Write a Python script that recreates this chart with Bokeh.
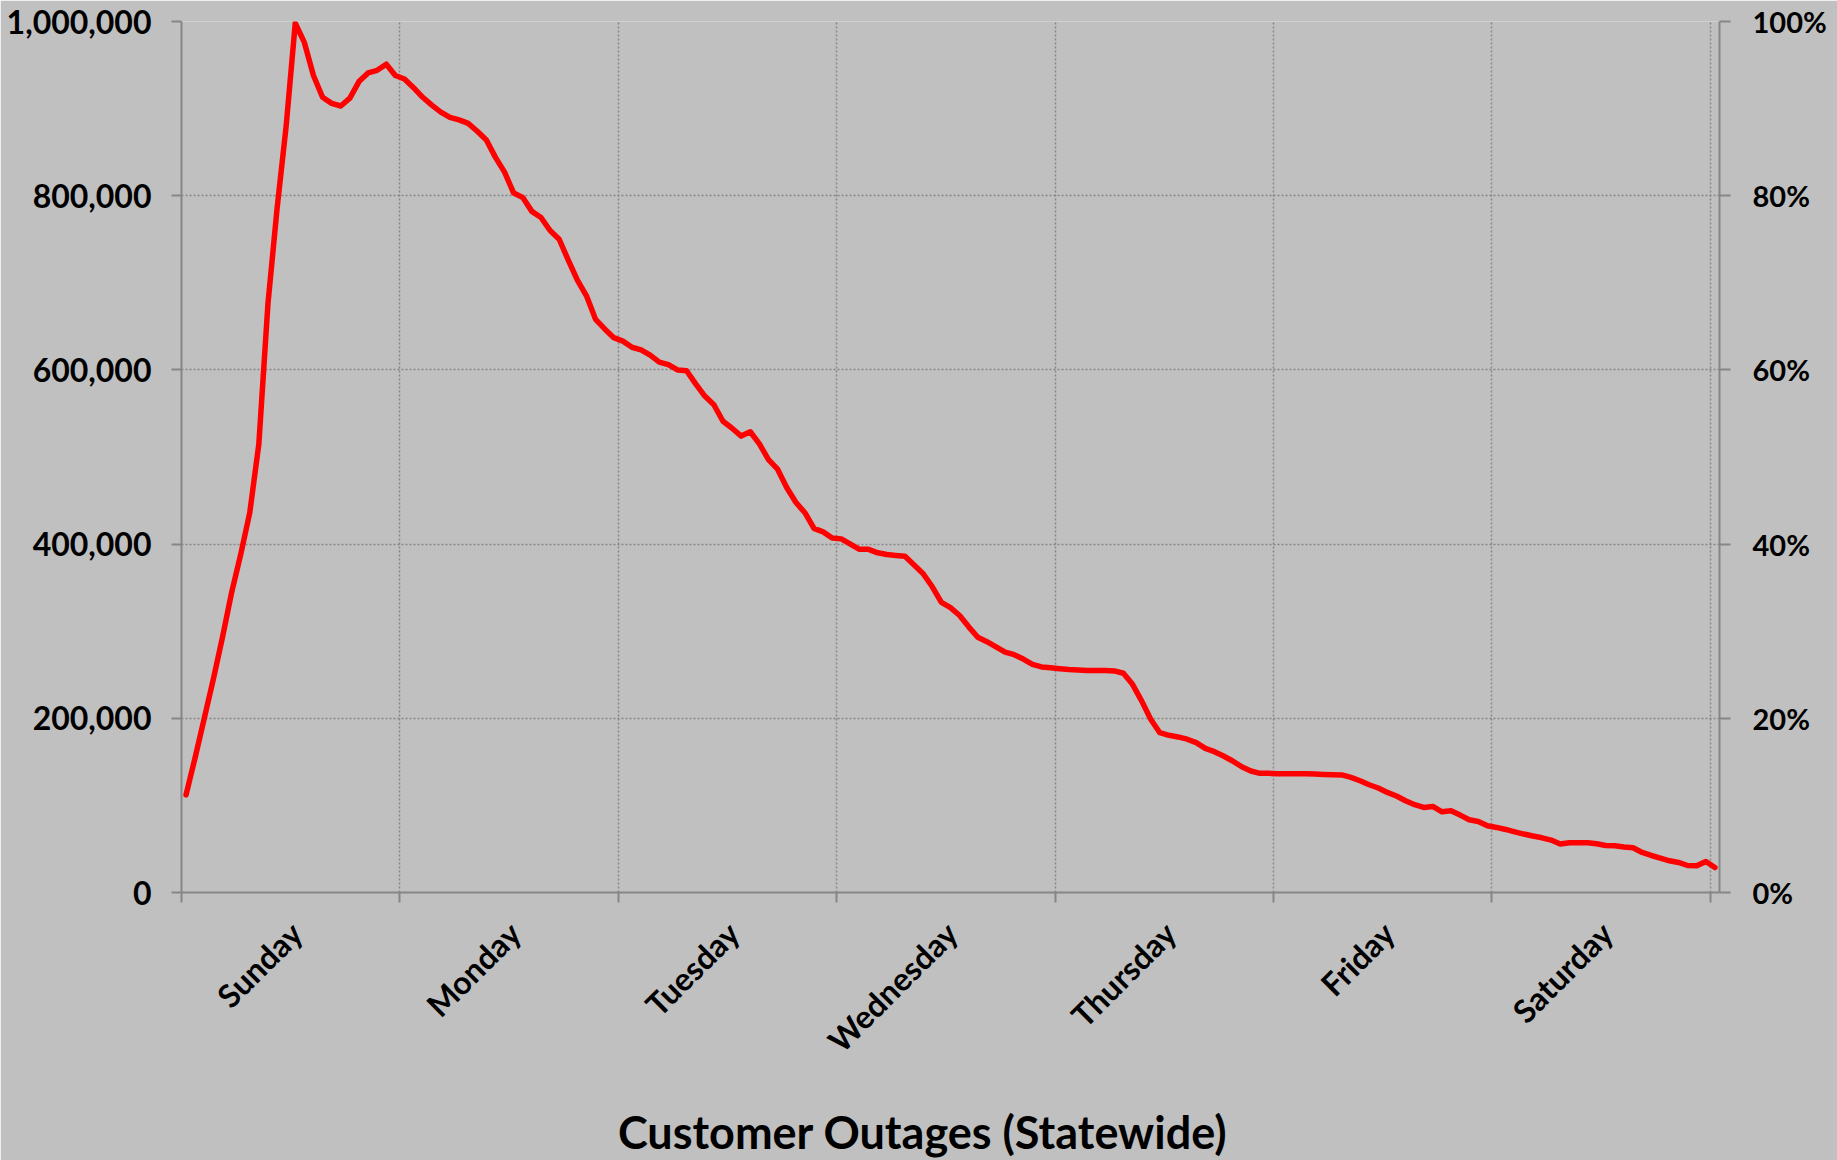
import math
from bokeh.plotting import figure
from bokeh.models import (Range1d, LinearAxis, FixedTicker, NumeralTickFormatter, Title)
from bokeh.embed import file_html
from bokeh.resources import INLINE

# ---- data (hourly customer outages, 169 readings) ----
outages = [
    112000, 155000, 200000, 245000, 293000, 344000, 388000, 436000, 515000, 676000,
    785000, 880000, 998000, 976000, 938000, 913000, 906000, 903000, 912000, 931000,
    941000, 944000, 951000, 938000, 934000, 924000, 913000, 904000, 896000, 890000,
    887000, 883000, 874000, 864000, 844000, 827000, 803000, 798000, 782000, 775000,
    760000, 750000, 726000, 703000, 685000, 658000, 647000, 637000, 633000, 626000,
    623000, 617000, 609000, 606000, 600000, 599000, 584000, 570000, 560000, 541000,
    533000, 524000, 529000, 515000, 497000, 486000, 465000, 448000, 436000, 418000,
    414000, 407000, 406000, 400000, 394000, 394000, 390000, 388000, 387000, 386000,
    376000, 366000, 351000, 333000, 327000, 318000, 305000, 293000, 288000, 282000,
    276000, 273000, 268000, 262000, 259000, 258000, 257000, 256000, 255500, 255000,
    254800, 254800, 254400, 251700, 239000, 220000, 199000, 183500, 180500, 178600,
    176000, 172000, 165500, 161700, 156700, 151000, 144400, 139500, 136800, 136800,
    136400, 136400, 136400, 136400, 136000, 135600, 135200, 135000, 132100, 128300,
    123700, 120000, 114900, 110800, 105400, 100800, 97700, 98800, 92700, 93900,
    88900, 83500, 81600, 76600, 74700, 72400, 69700, 67100, 64800, 62800,
    60200, 55600, 57100, 57100, 57100, 56000, 54000, 53600, 52200, 51400,
    46000, 42500, 39500, 36400, 34500, 31000, 30600, 35600, 28700,
]
days = ["Sunday", "Monday", "Tuesday", "Wednesday", "Thursday", "Friday", "Saturday"]
y_ticks = [0, 200000, 400000, 600000, 800000, 1000000]
pct_ticks = [0, 0.2, 0.4, 0.6, 0.8, 1.0]
title_text = "Customer Outages (Statewide)"

HOURS_PER_DAY = 24
hours = [h + 0.5 for h in range(len(outages))]
day_bounds = [HOURS_PER_DAY * k for k in range(len(days) + 1)]
label_pos = [HOURS_PER_DAY * k + 12.6 for k in range(len(days))]

BG = "#C0C0C0"
AX = "#868686"
GRID = "#858585"
FONT = "Lato"

p = figure(width=1837, height=1160, output_backend="svg", toolbar_location=None,
           x_range=Range1d(0, len(outages)), y_range=Range1d(0, 1000000),
           x_axis_location=None, y_axis_location=None,
           min_border_left=181, min_border_right=118, min_border_top=21,
           min_border_bottom=268)
p.background_fill_color = BG
p.border_fill_color = BG
p.outline_line_color = None

p.extra_y_ranges = {"pct": Range1d(0, 1)}

# left axis
yl = LinearAxis(ticker=FixedTicker(ticks=y_ticks, minor_ticks=[]),
                formatter=NumeralTickFormatter(format="0,0"))
# right axis
yr = LinearAxis(y_range_name="pct", ticker=FixedTicker(ticks=pct_ticks, minor_ticks=[]),
                formatter=NumeralTickFormatter(format="0%"))
# bottom axis
xb = LinearAxis(ticker=FixedTicker(ticks=label_pos, minor_ticks=day_bounds),
                major_label_overrides={pos: d for pos, d in zip(label_pos, days)})

for ax in (yl, yr, xb):
    ax.axis_line_color = AX
    ax.axis_line_width = 2
    ax.major_tick_line_color = AX
    ax.major_tick_line_width = 2
    ax.major_tick_in = 0
    ax.major_tick_out = 10
    ax.minor_tick_line_color = None
    ax.major_label_text_font = FONT
    ax.major_label_text_font_style = "bold"
    ax.major_label_text_font_size = "32px"
    ax.major_label_text_color = "black"

yl.major_label_standoff = 20
yr.major_tick_out = 11
yr.major_label_standoff = 22
yr.major_label_text_font_size = "29px"

xb.major_tick_line_color = None
xb.minor_tick_line_color = AX
xb.minor_tick_line_width = 2
xb.minor_tick_in = 0
xb.minor_tick_out = 10
xb.major_label_orientation = math.pi / 4
xb.major_label_standoff = 25

# invisible spacer below the day labels (one hidden tick, empty label, no line)
spacer = LinearAxis(ticker=FixedTicker(ticks=[day_bounds[0]], minor_ticks=[]),
                    major_label_overrides={day_bounds[0]: ""},
                    axis_line_color=None, major_tick_line_color=None,
                    minor_tick_line_color=None, major_tick_in=0, major_tick_out=27,
                    major_label_standoff=0)

p.add_layout(yl, "left")
p.add_layout(yr, "right")
p.add_layout(xb, "below")
p.add_layout(spacer, "below")
p.add_layout(Title(text=title_text, align="right", offset=492, vertical_align="middle",
                   standoff=0, text_font=FONT, text_font_style="bold",
                   text_font_size="45px", text_color="black"), "below")

# grids
p.xgrid.ticker = FixedTicker(ticks=day_bounds[1:])
p.ygrid.ticker = FixedTicker(ticks=y_ticks[1:])
for g in (p.xgrid, p.ygrid):
    g.grid_line_color = GRID
    g.grid_line_width = 1.5
    g.grid_line_dash = "2 2"

p.line(hours, outages, line_color="#FF0000", line_width=5.5,
       line_join="round", line_cap="round")

open("out.html", "w").write(file_html(p, INLINE))
